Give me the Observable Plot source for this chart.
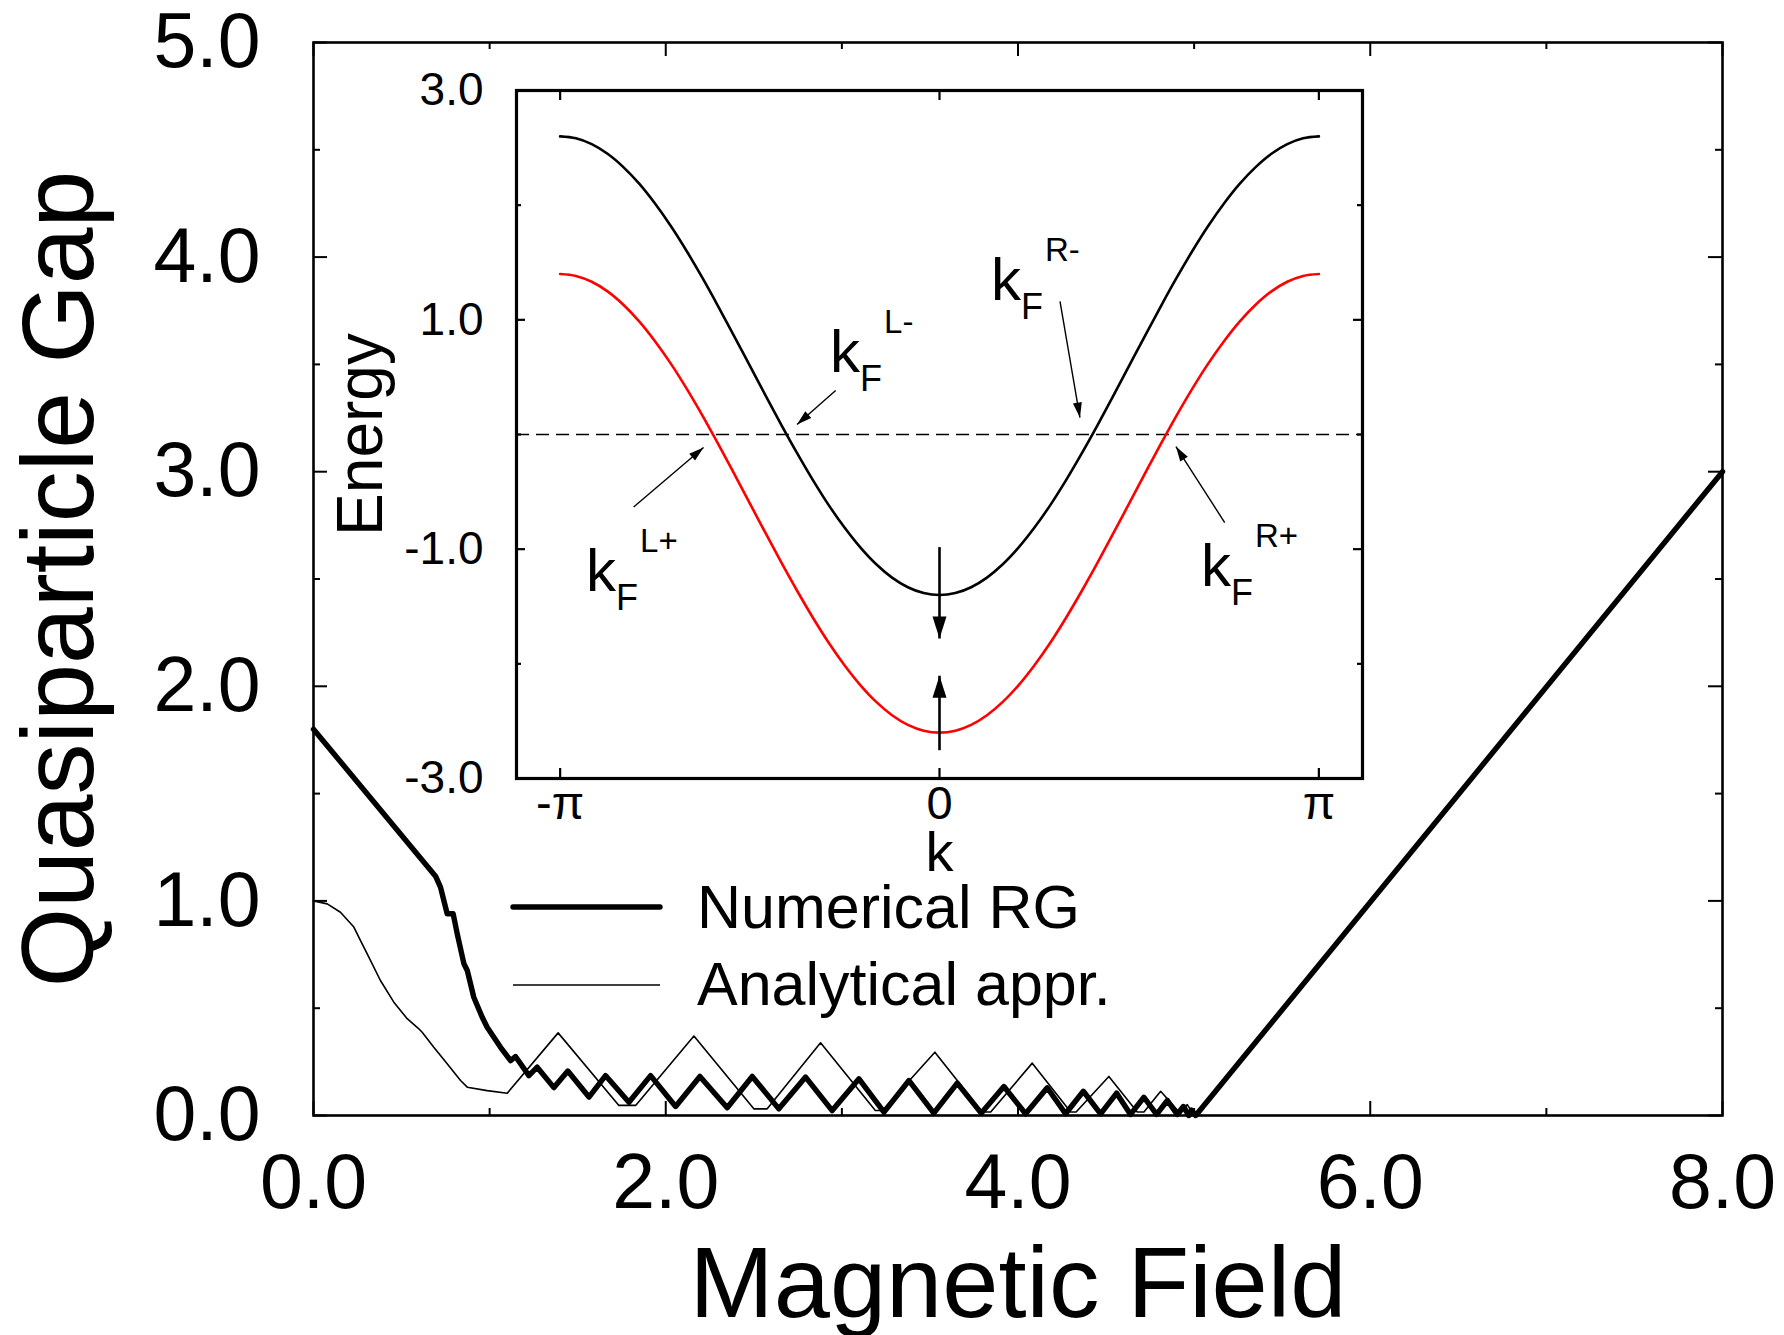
<!DOCTYPE html>
<html>
<head>
<meta charset="utf-8">
<script src="https://cdn.jsdelivr.net/npm/d3@7"></script>
<script src="https://cdn.jsdelivr.net/npm/@observablehq/plot@0.6"></script>
<style>
  body { margin: 0; background: #fff; }
  #wrap { position: relative; width: 1784px; height: 1335px; }
  #wrap svg { position: absolute; left: 0; top: 0; overflow: visible; }
</style>
</head>
<body>
<div id="wrap"></div>
<script>
// ---------------- main panel data ----------------
const nrgField = [0,0.693,0.721,0.759,0.793,0.816,0.854,0.873,0.91,0.958,0.986,1.062,1.119,1.147,1.223,1.27,1.365,1.444,1.564,1.658,1.791,1.914,2.056,2.194,2.349,2.491,2.642,2.794,2.945,3.097,3.239,3.381,3.522,3.655,3.791,3.920,4.043,4.166,4.270,4.371,4.469,4.560,4.639,4.715,4.787,4.848,4.904,4.939,4.970,4.985,5.009,8.0];
const nrgGap   = [1.80,1.115,1.064,0.94,0.94,0.847,0.707,0.676,0.551,0.458,0.411,0.318,0.256,0.275,0.186,0.225,0.13,0.207,0.086,0.186,0.062,0.186,0.042,0.182,0.036,0.182,0.031,0.179,0.023,0.171,0.016,0.163,0.011,0.151,0.011,0.135,0.008,0.129,0.008,0.113,0.008,0.104,0.005,0.085,0.005,0.070,0.005,0.042,0.0,0.025,0.0,3.0];
const anaField = [0,0.078,0.153,0.229,0.267,0.305,0.38,0.456,0.532,0.598,0.617,0.683,0.759,0.835,0.873,0.986,1.100,1.389,1.734,1.829,2.160,2.500,2.576,2.879,3.19,3.23,3.528,3.797,3.845,4.081,4.299,4.33,4.516,4.677,4.715,4.810,4.923,4.961,5.0];
const anaGap   = [1.0,0.986,0.947,0.878,0.815,0.753,0.629,0.528,0.451,0.404,0.388,0.318,0.241,0.163,0.132,0.116,0.104,0.385,0.047,0.047,0.370,0.031,0.031,0.339,0.023,0.023,0.295,0.016,0.016,0.244,0.016,0.016,0.182,0.016,0.016,0.113,0.008,0.051,0.0];
const fieldMajorTicks = [0, 2, 4, 6, 8];
const fieldMinorTicks = [1, 3, 5, 7];
const gapMajorTicks = [0, 1, 2, 3, 4, 5];
const gapMinorTicks = [0.5, 1.5, 2.5, 3.5, 4.5];
const legendNames = ["Numerical RG", "Analytical appr."];
const mainXLabel = "Magnetic Field";
const mainYLabel = "Quasiparticle Gap";

// ---------------- inset data ----------------
const kValues = [-3.142,-3.011,-2.880,-2.749,-2.618,-2.487,-2.356,-2.225,-2.094,-1.963,-1.833,-1.702,-1.571,-1.440,-1.309,-1.178,-1.047,-0.916,-0.785,-0.654,-0.524,-0.393,-0.262,-0.131,0,0.131,0.262,0.393,0.524,0.654,0.785,0.916,1.047,1.178,1.309,1.440,1.571,1.702,1.833,1.963,2.094,2.225,2.356,2.487,2.618,2.749,2.880,3.011,3.142];
const bandMinus = [2.600,2.583,2.532,2.448,2.332,2.187,2.014,1.818,1.600,1.365,1.118,0.861,0.600,0.339,0.082,-0.165,-0.400,-0.618,-0.814,-0.987,-1.132,-1.248,-1.332,-1.383,-1.400,-1.383,-1.332,-1.248,-1.132,-0.987,-0.814,-0.618,-0.400,-0.165,0.082,0.339,0.600,0.861,1.118,1.365,1.600,1.818,2.014,2.187,2.332,2.448,2.532,2.583,2.600];
const bandPlus  = [1.400,1.383,1.332,1.248,1.132,0.987,0.814,0.618,0.400,0.165,-0.082,-0.339,-0.600,-0.861,-1.118,-1.365,-1.600,-1.818,-2.014,-2.187,-2.332,-2.448,-2.532,-2.583,-2.600,-2.583,-2.532,-2.448,-2.332,-2.187,-2.014,-1.818,-1.600,-1.365,-1.118,-0.861,-0.600,-0.339,-0.082,0.165,0.400,0.618,0.814,0.987,1.132,1.248,1.332,1.383,1.400];
const fermiLevel = [0];
const kTicks = [-3.1416, 0, 3.1416];
const kTickLabels = ["-\u03c0", "0", "\u03c0"];
const energyMajorTicks = [-3, -1, 1, 3];
const energyMinorTicks = [-2, 0, 2];
// kF annotations
const kfK   = [-0.873, 0.459, -2.894, 2.198];
const kfE   = [0.541, 1.177, -1.369, -1.317];
const kfSup = ["L-", "R-", "L+", "R+"];
// pointer arrows (start -> tip)
const arrowK1 = [-0.860, 0.998, -2.533, 2.362];
const arrowE1 = [0.384, 1.160, -0.632, -0.768];
const arrowK2 = [-1.180, 1.163, -1.954, 1.958];
const arrowE2 = [0.087, 0.148, -0.113, -0.105];
// vertical shift arrows at k = 0
const shiftK1 = [0, 0];
const shiftE1 = [-0.982, -2.753];
const shiftK2 = [0, 0];
const shiftE2 = [-1.779, -2.104];

// ---------------- tables ----------------
const nrg = nrgField.map((x, i) => ({x, y: nrgGap[i]}));
const ana = anaField.map((x, i) => ({x, y: anaGap[i]}));
const upper = kValues.map((k, i) => ({k, E: bandMinus[i]}));
const lower = kValues.map((k, i) => ({k, E: bandPlus[i]}));
const kf = kfK.map((k, i) => ({k, E: kfE[i], sup: kfSup[i]}));
const arrows = arrowK1.map((k, i) => ({x1: k, y1: arrowE1[i], x2: arrowK2[i], y2: arrowE2[i]}));
const shifts = shiftK1.map((k, i) => ({x1: k, y1: shiftE1[i], x2: shiftK2[i], y2: shiftE2[i]}));

// ---------------- layout ----------------
const W = 1784, H = 1335;
const FONT = "'Liberation Sans', Arial, Helvetica, sans-serif";
const M = {left: 313, right: 62, top: 42, bottom: 220};
const mW = W - M.left - M.right, mH = H - M.top - M.bottom;
const I = {left: 516, right: W - 1362, top: 90, bottom: H - 778};
const iW = W - I.left - I.right, iH = H - I.top - I.bottom;
const kDomain = [-3.503, 3.503], eDomain = [-3, 3];

const fmt1 = d => d.toFixed(1);

const main = Plot.plot({
  width: W, height: H,
  marginLeft: M.left, marginRight: M.right, marginTop: M.top, marginBottom: M.bottom,
  style: {fontFamily: FONT, background: "white", overflow: "visible", color: "black"},
  x: {domain: [0, 8]},
  y: {domain: [0, 5]},
  marks: [
    Plot.line(ana, {x: "x", y: "y", stroke: "black", strokeWidth: 1.6, strokeLinejoin: "round"}),
    Plot.line(nrg, {x: "x", y: "y", stroke: "black", strokeWidth: 5.4, strokeLinejoin: "round", strokeLinecap: "round"}),
    Plot.frame({stroke: "black", strokeWidth: 2.6}),
    Plot.tickX(fieldMajorTicks, {x: d => d, insetTop: mH - 14, strokeWidth: 2}),
    Plot.tickX(fieldMajorTicks, {x: d => d, insetBottom: mH - 14, strokeWidth: 2}),
    Plot.tickX(fieldMinorTicks, {x: d => d, insetTop: mH - 7, strokeWidth: 2}),
    Plot.tickX(fieldMinorTicks, {x: d => d, insetBottom: mH - 7, strokeWidth: 2}),
    Plot.tickY(gapMajorTicks, {y: d => d, insetRight: mW - 14, strokeWidth: 2}),
    Plot.tickY(gapMajorTicks, {y: d => d, insetLeft: mW - 14, strokeWidth: 2}),
    Plot.tickY(gapMinorTicks, {y: d => d, insetRight: mW - 7, strokeWidth: 2}),
    Plot.tickY(gapMinorTicks, {y: d => d, insetLeft: mW - 7, strokeWidth: 2}),
    Plot.axisX({ticks: fieldMajorTicks, tickFormat: fmt1, tickSize: 0, tickPadding: 38, fontSize: 77, label: null, fill: "black"}),
    Plot.axisY({ticks: gapMajorTicks, tickFormat: fmt1, tickSize: 0, tickPadding: 53, fontSize: 77, label: null, fill: "black"}),
    Plot.text([mainXLabel], {text: d => d, frameAnchor: "bottom", dy: 201, textAnchor: "middle", lineAnchor: "bottom", fontSize: 101, fill: "black"}),
    Plot.text([mainYLabel], {text: d => d, frameAnchor: "left", dx: -221, rotate: -90, textAnchor: "middle", lineAnchor: "bottom", fontSize: 102, fill: "black"})
  ]
});

// arrowhead symbols (apex at origin, pointing up)
const headSmall = {draw(ctx) { ctx.moveTo(0, 0); ctx.lineTo(-4.5, 15); ctx.lineTo(4.5, 15); ctx.closePath(); }};
const headLarge = {draw(ctx) { ctx.moveTo(0, 0); ctx.lineTo(-7, 22); ctx.lineTo(7, 22); ctx.closePath(); }};
const sx = iW / (kDomain[1] - kDomain[0]);
const sy = iH / (eDomain[1] - eDomain[0]);
const angle = d => Math.atan2((d.x2 - d.x1) * sx, (d.y2 - d.y1) * sy) * 180 / Math.PI;

const inset = Plot.plot({
  width: W, height: H,
  marginLeft: I.left, marginRight: I.right, marginTop: I.top, marginBottom: I.bottom,
  style: {fontFamily: FONT, background: "transparent", overflow: "visible", color: "black"},
  x: {domain: kDomain},
  y: {domain: eDomain},
  marks: [
    Plot.ruleY(fermiLevel, {y: d => d, stroke: "black", strokeWidth: 1.5, strokeDasharray: "13,7"}),
    Plot.line(upper, {x: "k", y: "E", stroke: "black", strokeWidth: 2.6, curve: "catmull-rom"}),
    Plot.line(lower, {x: "k", y: "E", stroke: "#ff0000", strokeWidth: 2.6, curve: "catmull-rom"}),
    Plot.frame({stroke: "black", strokeWidth: 3.2}),
    Plot.tickX(kTicks, {x: d => d, insetTop: iH - 10, strokeWidth: 2.2}),
    Plot.tickX(kTicks, {x: d => d, insetBottom: iH - 10, strokeWidth: 2.2}),
    Plot.tickY(energyMajorTicks, {y: d => d, insetRight: iW - 9, strokeWidth: 2.2}),
    Plot.tickY(energyMajorTicks, {y: d => d, insetLeft: iW - 9, strokeWidth: 2.2}),
    Plot.tickY(energyMinorTicks, {y: d => d, insetRight: iW - 5, strokeWidth: 2.2}),
    Plot.tickY(energyMinorTicks, {y: d => d, insetLeft: iW - 5, strokeWidth: 2.2}),
    Plot.axisX({ticks: kTicks, tickFormat: (d, i) => kTickLabels[i], tickSize: 0, tickPadding: 7, fontSize: 47, label: null, fill: "black"}),
    Plot.axisY({ticks: energyMajorTicks, tickFormat: fmt1, tickSize: 0, tickPadding: 33, fontSize: 46, label: null, fill: "black"}),
    Plot.text(["k"], {text: d => d, frameAnchor: "bottom", dy: 92, textAnchor: "middle", lineAnchor: "bottom", fontSize: 56, fill: "black"}),
    Plot.text(["Energy"], {text: d => d, frameAnchor: "left", dx: -135, rotate: -90, textAnchor: "middle", lineAnchor: "bottom", fontSize: 64, fill: "black"}),
    // pointer arrows
    Plot.link(arrows, {x1: "x1", y1: "y1", x2: "x2", y2: "y2", stroke: "black", strokeWidth: 1.4}),
    Plot.dot(arrows, {x: "x2", y: "y2", symbol: headSmall, rotate: angle, fill: "black", stroke: null}),
    Plot.link(shifts, {x1: "x1", y1: "y1", x2: "x2", y2: "y2", stroke: "black", strokeWidth: 2.6}),
    Plot.dot(shifts, {x: "x2", y: "y2", symbol: headLarge, rotate: angle, fill: "black", stroke: null}),
    // kF labels
    Plot.text(kf, {x: "k", y: "E", text: () => "k", dx: -4, textAnchor: "start", lineAnchor: "bottom", fontSize: 60, fill: "black"}),
    Plot.text(kf, {x: "k", y: "E", text: () => "F", dx: 26, dy: 19, textAnchor: "start", lineAnchor: "bottom", fontSize: 36, fill: "black"}),
    Plot.text(kf, {x: "k", y: "E", text: "sup", dx: 50, dy: -39, textAnchor: "start", lineAnchor: "bottom", fontSize: 33, fill: "black"})
  ]
});

const wrap = document.getElementById("wrap");
wrap.appendChild(main);
wrap.appendChild(inset);

// legend inside the main panel
const lg = d3.select(main).append("g").attr("class", "legend");
const legendRows = [{y: 907, base: 928, w: 5.4}, {y: 985, base: 1005, w: 1.6}];
legendNames.forEach((name, i) => {
  const r = legendRows[i];
  lg.append("line").attr("x1", 513).attr("x2", 660).attr("y1", r.y).attr("y2", r.y)
    .attr("stroke", "black").attr("stroke-width", r.w).attr("stroke-linecap", i === 0 ? "round" : "butt");
  lg.append("text").attr("x", 697).attr("y", r.base).attr("font-size", 61)
    .attr("text-anchor", "start")
    .attr("font-family", FONT).attr("fill", "black").text(name);
});
</script>
</body>
</html>
